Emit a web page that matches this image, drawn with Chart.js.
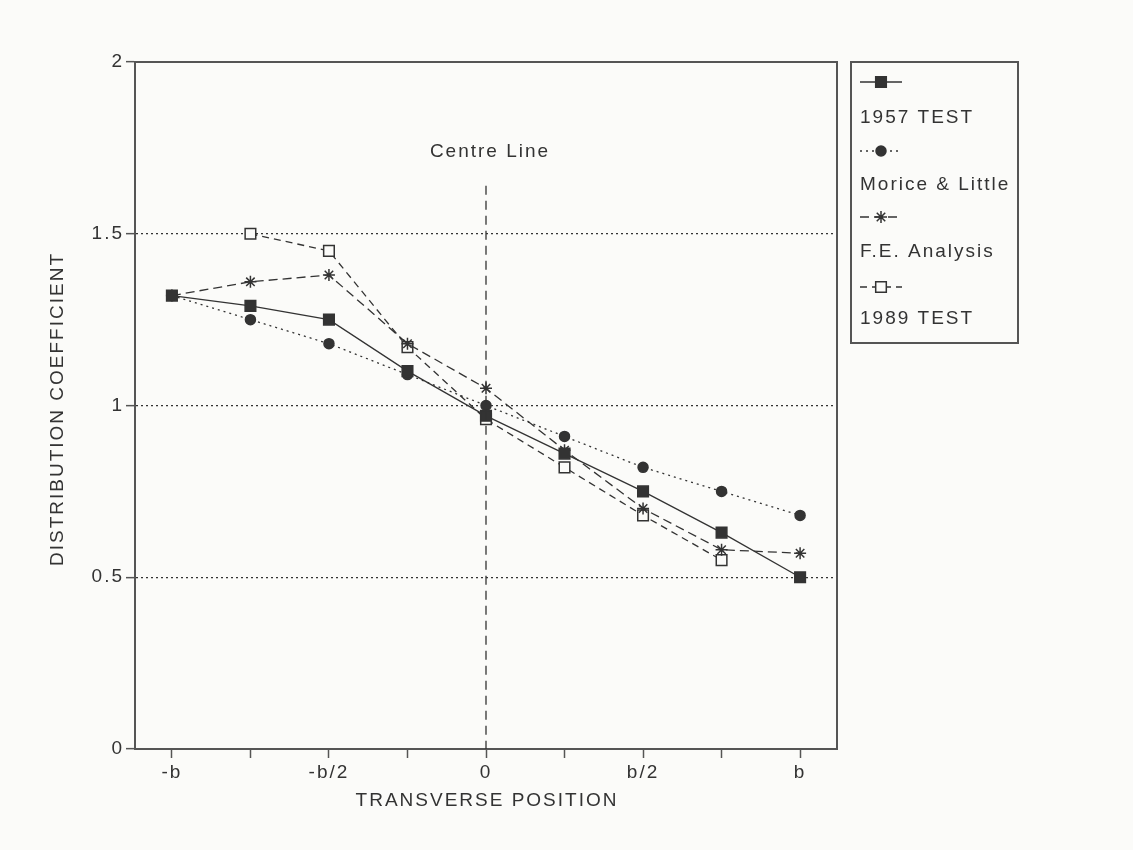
<!DOCTYPE html>
<html>
<head>
<meta charset="utf-8">
<script src="https://cdn.jsdelivr.net/npm/chart.js@4"></script>
<style>
  html, body { margin: 0; padding: 0; background: #fbfbf9; }
  #wrap { width: 1133px; height: 850px; }
</style>
</head>
<body>
<div id="wrap"><canvas id="myChart" width="1133" height="850"></canvas></div>
<script>
// transverse positions, in quarters of b
const positions = [-4, -3, -2, -1, 0, 1, 2, 3, 4];
const tickLabels = ['-b', '', '-b/2', '', '0', '', 'b/2', '', 'b'];
const yTicks = [0, 0.5, 1, 1.5, 2];

const test1957 = [1.32, 1.29, 1.25, 1.10, 0.97, 0.86, 0.75, 0.63, 0.50];
const moriceLittle = [1.32, 1.25, 1.18, 1.09, 1.00, 0.91, 0.82, 0.75, 0.68];
const feAnalysis = [1.32, 1.36, 1.38, 1.18, 1.05, 0.87, 0.70, 0.58, 0.57];
const test1989 = [null, 1.50, 1.45, 1.17, 0.96, 0.82, 0.68, 0.55, null];

const seriesNames = ['1957 TEST', 'Morice & Little', 'F.E. Analysis', '1989 TEST'];
const ink = '#333';
const bg = '#fbfbf9';
const font = 'Liberation Sans, Arial, sans-serif';
const fsize = 19;

function pts(vals) {
  return positions.map((p, i) => ({ x: p, y: vals[i] }));
}

const styles = [
  { pointStyle: 'rect', pointRadius: 7.5, fill: ink, dash: [] },
  { pointStyle: 'circle', pointRadius: 5, fill: ink, dash: [2, 4] },
  { pointStyle: 'star', pointRadius: 6, fill: ink, dash: [9, 5] },
  { pointStyle: 'rect', pointRadius: 7.5, fill: bg, dash: [7, 5] },
];

const allData = [test1957, moriceLittle, feAnalysis, test1989];

const datasets = allData.map((vals, i) => ({
  label: seriesNames[i],
  data: pts(vals),
  borderColor: ink,
  borderWidth: 1.3,
  borderDash: styles[i].dash,
  pointStyle: styles[i].pointStyle,
  pointRadius: styles[i].pointRadius,
  pointBackgroundColor: styles[i].fill,
  pointBorderColor: ink,
  pointBorderWidth: 1.5,
  fill: false,
  tension: 0,
  spanGaps: false,
}));

const spacing = {
  id: 'spacing',
  beforeUpdate(chart) { chart.ctx.letterSpacing = '2px'; },
  beforeDraw(chart) { chart.ctx.letterSpacing = '2px'; },
};

const extras = {
  id: 'extras',
  afterDraw(chart) {
    const ctx = chart.ctx;
    const a = chart.chartArea;
    const xs = chart.scales.x;
    const ys = chart.scales.y;
    ctx.save();
    ctx.letterSpacing = '2px';
    // frame
    ctx.strokeStyle = '#555';
    ctx.lineWidth = 2;
    ctx.setLineDash([]);
    ctx.strokeRect(a.left, a.top, a.right - a.left, a.bottom - a.top);

    ctx.fillStyle = ink;
    ctx.font = fsize + 'px ' + font;
    ctx.textAlign = 'center';
    ctx.textBaseline = 'middle';
    // axis titles
    ctx.fillText('TRANSVERSE POSITION', 487, 801);
    ctx.save();
    ctx.translate(58, 409);
    ctx.rotate(-Math.PI / 2);
    ctx.fillText('DISTRIBUTION COEFFICIENT', 0, 0);
    ctx.restore();

    // centre line
    const cx = xs.getPixelForValue(0);
    ctx.strokeStyle = ink;
    ctx.lineWidth = 1.3;
    ctx.setLineDash([9, 6]);
    ctx.beginPath();
    ctx.moveTo(cx, ys.getPixelForValue(1.64));
    ctx.lineTo(cx, a.bottom);
    ctx.stroke();
    ctx.setLineDash([]);
    ctx.fillText('Centre Line', cx + 4, ys.getPixelForValue(1.74));

    // legend box
    const lx = 851, ly = 62, lw = 167, lh = 281;
    ctx.strokeStyle = '#555';
    ctx.lineWidth = 2;
    ctx.strokeRect(lx, ly, lw, lh);
    const symY = [82, 151, 217, 287];
    const txtY = [118, 185, 252, 319];
    chart.data.datasets.forEach((ds, i) => {
      ctx.strokeStyle = ink;
      ctx.lineWidth = 1.3;
      ctx.setLineDash(ds.borderDash);
      ctx.beginPath();
      ctx.moveTo(860, symY[i]);
      ctx.lineTo(902, symY[i]);
      ctx.stroke();
      ctx.setLineDash([]);
      ctx.fillStyle = ds.pointBackgroundColor;
      ctx.lineWidth = 1.5;
      Chart.helpers.drawPoint(ctx, {
        pointStyle: ds.pointStyle,
        radius: ds.pointRadius,
        rotation: 0,
        borderWidth: 1.5,
      }, 881, symY[i]);
      ctx.fillStyle = ink;
      ctx.textAlign = 'left';
      ctx.fillText(ds.label, 860, txtY[i]);
    });
    ctx.restore();
  },
};

new Chart(document.getElementById('myChart').getContext('2d'), {
  type: 'line',
  data: { datasets },
  options: {
    responsive: false,
    animation: false,
    layout: { padding: { left: 40, right: 296, top: 62, bottom: 40 } },
    plugins: { legend: { display: false }, tooltip: { enabled: false } },
    scales: {
      x: {
        type: 'linear',
        min: -4.47,
        max: 4.47,
        afterBuildTicks: (s) => { s.ticks = positions.map(v => ({ value: v })); },
        afterFit: (s) => { s.height = 61; },
        ticks: {
          autoSkip: false,
          maxRotation: 0,
          color: ink,
          font: { family: font, size: fsize },
          padding: 3,
          callback: (v) => tickLabels[positions.indexOf(v)],
        },
        grid: { drawOnChartArea: false, tickLength: 9, tickColor: '#555', tickWidth: 1.5 },
        border: { display: true, color: '#555', width: 2 },
      },
      y: {
        min: 0,
        max: 2,
        afterBuildTicks: (s) => { s.ticks = yTicks.map(v => ({ value: v })); },
        afterFit: (s) => { s.width = 95; },
        ticks: {
          color: ink,
          font: { family: font, size: fsize },
          padding: 2,
          callback: (v) => String(v),
        },
        grid: {
          color: (c) => (c.tick && (c.tick.value === 0 || c.tick.value === 2)) ? 'rgba(0,0,0,0)' : ink,
          lineWidth: 1.3,
          tickColor: '#555',
          tickLength: 9,
          tickWidth: 1.5,
          tickBorderDash: [],
        },
        border: { display: true, color: '#555', width: 2, dash: [2, 3] },
      },
    },
  },
  plugins: [spacing, extras],
});
</script>
</body>
</html>
